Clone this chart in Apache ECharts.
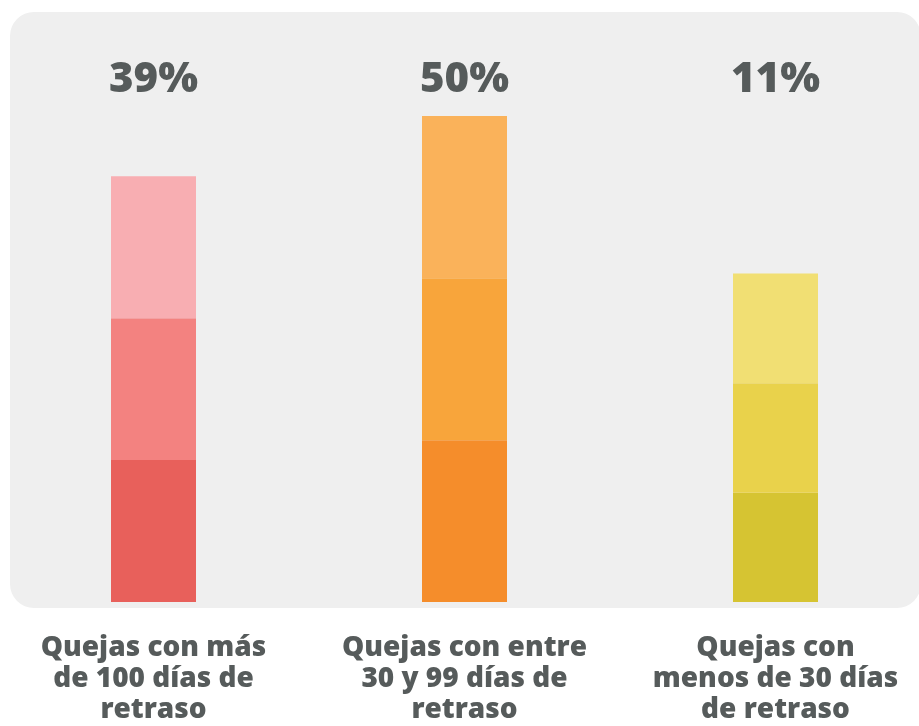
<!DOCTYPE html>
<html>
<head>
<meta charset="utf-8">
<script src="https://cdnjs.cloudflare.com/ajax/libs/echarts/6.0.0/echarts.min.js"></script>
<style>
  html, body { margin: 0; padding: 0; background: #ffffff; }
  #chart { width: 919px; height: 726px; }
</style>
</head>
<body>
<div id="chart"></div>
<script>
// categorias y valores
var categories = [
  'Quejas con más\nde 100 días de\nretraso',
  'Quejas con entre\n30 y 99 días de\nretraso',
  'Quejas con\nmenos de 30 días\nde retraso'
];
var percentLabels = ['39%', '50%', '11%'];
// tres tramos iguales por barra (alto)
var tramoBajo = [29.2, 33.3, 22.5];
var tramoMedio = [29.2, 33.3, 22.5];
var tramoAlto = [29.2, 33.4, 22.6];

var coloresBajo = ['#E8605B', '#F58D2B', '#D6C432'];
var coloresMedio = ['#F38280', '#F8A53B', '#E9D24B'];
var coloresAlto = ['#F8AEB2', '#FAB25A', '#F1DF73'];

var chart = echarts.init(document.getElementById('chart'));
var fontFam = '"Open Sans"';
var textColor = '#565B5B';

function tramo(name, data, colors) {
  return {
    name: name,
    type: 'bar',
    stack: 'total',
    barWidth: 85,
    data: data,
    itemStyle: {
      color: function (p) { return colors[p.dataIndex]; }
    },
    emphasis: { disabled: true }
  };
}

var option = {
  animation: false,
  backgroundColor: '#ffffff',
  graphic: [{
    type: 'rect',
    silent: true,
    z: -10,
    shape: { x: 10, y: 12, width: 911, height: 596, r: 24 },
    style: { fill: '#EFEFEF' }
  }],
  grid: { left: 153.5, right: 143.5, top: 116, bottom: 122 },
  xAxis: [{
    type: 'category',
    position: 'bottom',
    boundaryGap: false,
    data: categories,
    axisLine: { show: false },
    axisTick: { show: false },
    axisLabel: {
      interval: 0,
      margin: 31,
      color: textColor,
      fontFamily: fontFam,
      fontWeight: 800,
      fontSize: 28,
      lineHeight: 31,
      align: 'center'
    }
  }, {
    type: 'category',
    position: 'top',
    boundaryGap: false,
    data: percentLabels,
    axisLine: { show: false },
    axisTick: { show: false },
    axisLabel: {
      interval: 0,
      margin: 15,
      color: textColor,
      fontFamily: fontFam,
      fontWeight: 800,
      fontSize: 42
    }
  }],
  yAxis: {
    type: 'value',
    min: 0,
    max: 100,
    show: false,
    splitLine: { show: false }
  },
  series: [
    tramo('bajo', tramoBajo, coloresBajo),
    tramo('medio', tramoMedio, coloresMedio),
    tramo('alto', tramoAlto, coloresAlto)
  ]
};
chart.setOption(option);
</script>
</body>
</html>
